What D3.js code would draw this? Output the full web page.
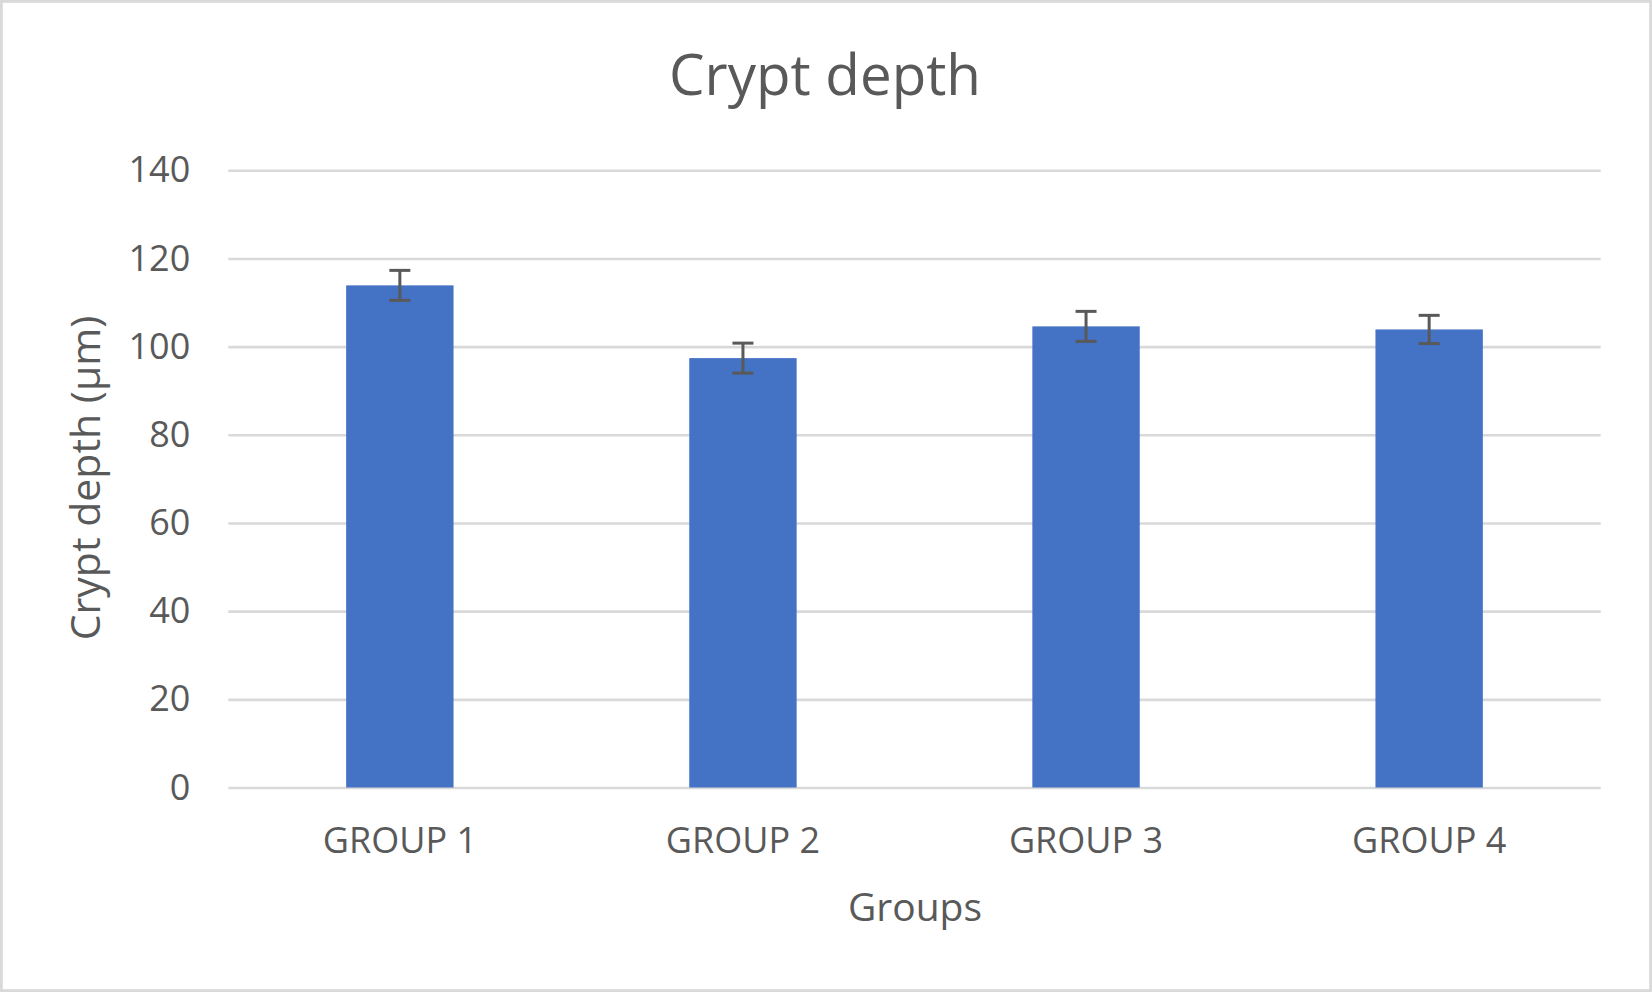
<!DOCTYPE html>
<html>
<head>
<meta charset="utf-8">
<script src="https://cdn.jsdelivr.net/npm/d3@7/dist/d3.min.js"></script>
<style>
  html, body { margin: 0; padding: 0; background: #ffffff; }
  svg { display: block; }
  text { font-family: "Open Sans", "Noto Sans", sans-serif; fill: #595959; }
</style>
</head>
<body>
<svg id="chart" width="1652" height="992"></svg>
<script>
const categories = ["GROUP 1", "GROUP 2", "GROUP 3", "GROUP 4"];
const values = [113.9, 97.4, 104.6, 103.9];
const errors = [3.4, 3.4, 3.4, 3.2];
const yTicks = [0, 20, 40, 60, 80, 100, 120, 140];
const titleText = "Crypt depth";
const xTitleText = "Groups";
const yTitleText = "Crypt depth (μm)";

const W = 1652, H = 992;
const plot = { left: 228.3, right: 1600.7, top: 170.3, bottom: 787.5 };

const svg = d3.select("#chart");

svg.append("rect")
  .attr("x", 1.4).attr("y", 1.4)
  .attr("width", W - 2.8).attr("height", H - 2.8)
  .attr("fill", "#ffffff")
  .attr("stroke", "#d9d9d9")
  .attr("stroke-width", 2.8);

const x = d3.scaleBand()
  .domain(categories)
  .range([plot.left, plot.right])
  .paddingInner(0.687)
  .paddingOuter(0.3435);

const y = d3.scaleLinear()
  .domain([0, 140])
  .range([plot.bottom, plot.top]);

// Y axis with gridlines
const yAxis = svg.append("g")
  .attr("transform", `translate(${plot.left},0)`)
  .call(d3.axisLeft(y)
    .tickValues(yTicks)
    .tickSize(-(plot.right - plot.left))
    .tickPadding(38));
yAxis.select(".domain").remove();
yAxis.selectAll(".tick line")
  .attr("stroke", "#d9d9d9")
  .attr("stroke-width", 2.6);
yAxis.selectAll(".tick text")
  .style("font-size", "36px")
  .style("font-family", '"Open Sans", sans-serif')
  .attr("fill", "#595959");

// Bars
svg.append("g").selectAll("rect")
  .data(categories)
  .join("rect")
  .attr("x", d => x(d))
  .attr("width", x.bandwidth())
  .attr("y", (d, i) => y(values[i]))
  .attr("height", (d, i) => y(0) - y(values[i]))
  .attr("fill", "#4472c4");

// Error bars
const eg = svg.append("g")
  .attr("stroke", "#595959")
  .attr("stroke-width", 3)
  .attr("fill", "none");
categories.forEach((c, i) => {
  const cx = x(c) + x.bandwidth() / 2;
  const yHi = y(values[i] + errors[i]);
  const yLo = y(values[i] - errors[i]);
  eg.append("line").attr("x1", cx).attr("x2", cx).attr("y1", yHi).attr("y2", yLo);
  eg.append("line").attr("x1", cx - 10.5).attr("x2", cx + 10.5).attr("y1", yHi).attr("y2", yHi);
  eg.append("line").attr("x1", cx - 10.5).attr("x2", cx + 10.5).attr("y1", yLo).attr("y2", yLo);
});

// X axis labels
const xAxis = svg.append("g")
  .attr("transform", `translate(0,${plot.bottom})`)
  .call(d3.axisBottom(x).tickSize(0).tickPadding(0));
xAxis.select(".domain").remove();
xAxis.selectAll(".tick text")
  .attr("dy", null)
  .attr("y", 65.2)
  .style("font-size", "36px")
  .style("font-family", '"Open Sans", sans-serif')
  .attr("fill", "#595959");

// Titles
svg.append("text")
  .attr("x", 825).attr("y", 95)
  .attr("text-anchor", "middle")
  .style("font-size", "56.5px")
  .text(titleText);

svg.append("text")
  .attr("x", 915).attr("y", 921)
  .attr("text-anchor", "middle")
  .style("font-size", "39px")
  .text(xTitleText);

svg.append("text")
  .attr("transform", "translate(100,478) rotate(-90)")
  .attr("text-anchor", "middle")
  .style("font-size", "41px")
  .text(yTitleText);
</script>
</body>
</html>
